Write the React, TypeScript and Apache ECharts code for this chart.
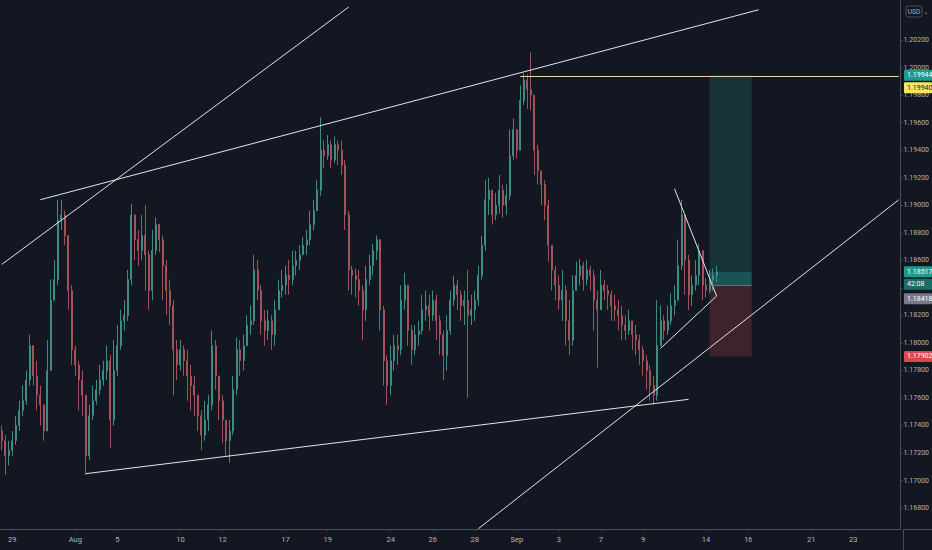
import React, { useEffect, useRef } from 'react';
import * as echarts from 'echarts';

// 4-hour candles (close / high / low); open = previous close
const firstOpen = 1.1736;
const closes = [
  1.1729, 1.1718, 1.1722, 1.1729, 1.1740, 1.1751, 1.1758, 1.1773, 1.1798, 1.1776,
  1.1762, 1.1755, 1.1736, 1.1780, 1.1831, 1.1846, 1.1889, 1.1893, 1.1878, 1.1838,
  1.1795, 1.1784, 1.1773, 1.1762, 1.1718, 1.1747, 1.1758, 1.1766, 1.1773, 1.1780,
  1.1787, 1.1744, 1.1780, 1.1798, 1.1816, 1.1820, 1.1846, 1.1893, 1.1875, 1.1867,
  1.1878, 1.1864, 1.1838, 1.1867, 1.1886, 1.1875, 1.1856, 1.1838, 1.1827, 1.1795,
  1.1784, 1.1795, 1.1787, 1.1776, 1.1769, 1.1762, 1.1747, 1.1733, 1.1744, 1.1755,
  1.1798, 1.1776, 1.1758, 1.1744, 1.1729, 1.1736, 1.1766, 1.1795, 1.1787, 1.1798,
  1.1813, 1.1816, 1.1853, 1.1838, 1.1816, 1.1809, 1.1816, 1.1806, 1.1824, 1.1838,
  1.1842, 1.1849, 1.1846, 1.1856, 1.1860, 1.1864, 1.1871, 1.1875, 1.1886, 1.1896,
  1.1911, 1.1940, 1.1936, 1.1944, 1.1933, 1.1944, 1.1940, 1.1929, 1.1893, 1.1853,
  1.1849, 1.1846, 1.1838, 1.1824, 1.1846, 1.1856, 1.1867, 1.1875, 1.1824, 1.1787,
  1.1769, 1.1787, 1.1798, 1.1795, 1.1831, 1.1842, 1.1809, 1.1795, 1.1806, 1.1809,
  1.1824, 1.1827, 1.1820, 1.1831, 1.1816, 1.1806, 1.1791, 1.1809, 1.1831, 1.1842,
  1.1835, 1.1827, 1.1831, 1.1820, 1.1824, 1.1831, 1.1849, 1.1871, 1.1904, 1.1911,
  1.1893, 1.1900, 1.1911, 1.1900, 1.1907, 1.1936, 1.1955, 1.1940, 1.1976, 1.1991,
  1.1984, 1.1980, 1.1940, 1.1925, 1.1915, 1.1900, 1.1871, 1.1853, 1.1842, 1.1831,
  1.1838, 1.1816, 1.1802, 1.1838, 1.1849, 1.1856, 1.1846, 1.1853, 1.1849, 1.1831,
  1.1824, 1.1842, 1.1838, 1.1835, 1.1827, 1.1824, 1.1820, 1.1813, 1.1809, 1.1816,
  1.1806, 1.1802, 1.1795, 1.1787, 1.1780, 1.1769, 1.1762, 1.1798, 1.1816, 1.1809,
  1.1816, 1.1827, 1.1831, 1.1856, 1.1893, 1.1860, 1.1835, 1.1842, 1.1849, 1.1867,
  1.1842, 1.1838, 1.1846, 1.1849, 1.18517,
];
const highs = [
  1.1740, 1.1733, 1.1729, 1.1736, 1.1747, 1.1758, 1.1769, 1.1780, 1.1806, 1.1795,
  1.1787, 1.1769, 1.1755, 1.1802, 1.1846, 1.1860, 1.1904, 1.1904, 1.1896, 1.1878,
  1.1842, 1.1798, 1.1787, 1.1780, 1.1758, 1.1755, 1.1769, 1.1773, 1.1784, 1.1787,
  1.1798, 1.1791, 1.1802, 1.1813, 1.1824, 1.1831, 1.1853, 1.1901, 1.1893, 1.1882,
  1.1893, 1.1900, 1.1867, 1.1882, 1.1891, 1.1884, 1.1878, 1.1860, 1.1846, 1.1831,
  1.1802, 1.1802, 1.1798, 1.1795, 1.1784, 1.1776, 1.1762, 1.1751, 1.1758, 1.1762,
  1.1809, 1.1802, 1.1776, 1.1762, 1.1744, 1.1744, 1.1776, 1.1804, 1.1802, 1.1806,
  1.1820, 1.1827, 1.1864, 1.1860, 1.1842, 1.1824, 1.1824, 1.1820, 1.1831, 1.1846,
  1.1853, 1.1856, 1.1860, 1.1867, 1.1867, 1.1871, 1.1877, 1.1882, 1.1896, 1.1904,
  1.1918, 1.1964, 1.1947, 1.1951, 1.1947, 1.1950, 1.1947, 1.1947, 1.1933, 1.1896,
  1.1856, 1.1854, 1.1853, 1.1842, 1.1856, 1.1864, 1.1872, 1.1878, 1.1875, 1.1827,
  1.1791, 1.1798, 1.1806, 1.1806, 1.1842, 1.1851, 1.1842, 1.1813, 1.1813, 1.1816,
  1.1835, 1.1838, 1.1835, 1.1838, 1.1835, 1.1820, 1.1809, 1.1820, 1.1838, 1.1849,
  1.1846, 1.1838, 1.1838, 1.1853, 1.1835, 1.1838, 1.1856, 1.1878, 1.1918, 1.1920,
  1.1911, 1.1909, 1.1922, 1.1915, 1.1915, 1.1955, 1.1963, 1.1951, 1.1987, 1.1996,
  1.1995, 1.2011, 1.1980, 1.1944, 1.1925, 1.1918, 1.1904, 1.1871, 1.1856, 1.1849,
  1.1853, 1.1842, 1.1831, 1.1849, 1.1859, 1.1861, 1.1859, 1.1860, 1.1856, 1.1853,
  1.1838, 1.1853, 1.1846, 1.1842, 1.1838, 1.1835, 1.1831, 1.1827, 1.1820, 1.1824,
  1.1816, 1.1813, 1.1806, 1.1798, 1.1791, 1.1784, 1.1776, 1.1831, 1.1827, 1.1820,
  1.1827, 1.1836, 1.1842, 1.1875, 1.1904, 1.1893, 1.1864, 1.1849, 1.1860, 1.1872,
  1.1867, 1.1847, 1.1853, 1.1854, 1.1856,
];
const lows = [
  1.1722, 1.1704, 1.1711, 1.1718, 1.1726, 1.1736, 1.1747, 1.1755, 1.1769, 1.1769,
  1.1751, 1.1740, 1.1729, 1.1736, 1.1780, 1.1831, 1.1842, 1.1882, 1.1871, 1.1824,
  1.1784, 1.1776, 1.1751, 1.1747, 1.1704, 1.1715, 1.1744, 1.1755, 1.1762, 1.1769,
  1.1773, 1.1724, 1.1740, 1.1776, 1.1795, 1.1809, 1.1816, 1.1842, 1.1860, 1.1856,
  1.1860, 1.1838, 1.1824, 1.1831, 1.1864, 1.1866, 1.1831, 1.1820, 1.1813, 1.1762,
  1.1773, 1.1780, 1.1776, 1.1758, 1.1751, 1.1747, 1.1736, 1.1722, 1.1729, 1.1736,
  1.1751, 1.1766, 1.1744, 1.1727, 1.1718, 1.1713, 1.1733, 1.1762, 1.1776, 1.1780,
  1.1798, 1.1806, 1.1813, 1.1831, 1.1806, 1.1798, 1.1802, 1.1795, 1.1798, 1.1824,
  1.1833, 1.1835, 1.1835, 1.1842, 1.1849, 1.1853, 1.1864, 1.1864, 1.1871, 1.1882,
  1.1896, 1.1907, 1.1927, 1.1933, 1.1927, 1.1931, 1.1929, 1.1922, 1.1882, 1.1838,
  1.1835, 1.1833, 1.1827, 1.1802, 1.1816, 1.1842, 1.1849, 1.1860, 1.1809, 1.1769,
  1.1755, 1.1762, 1.1780, 1.1784, 1.1791, 1.1824, 1.1798, 1.1784, 1.1791, 1.1798,
  1.1806, 1.1816, 1.1809, 1.1816, 1.1802, 1.1791, 1.1773, 1.1780, 1.1806, 1.1827,
  1.1824, 1.1816, 1.1813, 1.1760, 1.1813, 1.1816, 1.1827, 1.1846, 1.1867, 1.1893,
  1.1886, 1.1889, 1.1894, 1.1891, 1.1893, 1.1904, 1.1933, 1.1934, 1.1940, 1.1973,
  1.1970, 1.1969, 1.1922, 1.1915, 1.1900, 1.1889, 1.1859, 1.1838, 1.1831, 1.1824,
  1.1816, 1.1798, 1.1791, 1.1798, 1.1838, 1.1842, 1.1838, 1.1842, 1.1838, 1.1809,
  1.1782, 1.1824, 1.1831, 1.1824, 1.1816, 1.1816, 1.1809, 1.1802, 1.1802, 1.1806,
  1.1795, 1.1791, 1.1784, 1.1776, 1.1766, 1.1758, 1.1755, 1.1758, 1.1802, 1.1802,
  1.1806, 1.1813, 1.1820, 1.1831, 1.1853, 1.1835, 1.1824, 1.1827, 1.1838, 1.1842,
  1.1831, 1.1833, 1.1836, 1.1838, 1.1844,
];

// price-scale ticks; 1.18400 sits under the price tags, so only its tick mark is drawn
const priceTicks = [
  1.168, 1.17, 1.172, 1.174, 1.176, 1.178, 1.18, 1.182, 1.184, 1.186, 1.188,
  1.19, 1.192, 1.194, 1.196, 1.198, 1.2, 1.202,
];
const priceLabels = [
  1.168, 1.17, 1.172, 1.174, 1.176, 1.178, 1.18, 1.182, 1.186, 1.188,
  1.19, 1.192, 1.194, 1.196, 1.198, 1.2, 1.202,
];
const tickDays = [
  '2020-07-29', '2020-08-03', '2020-08-05', '2020-08-10', '2020-08-12', '2020-08-17',
  '2020-08-19', '2020-08-24', '2020-08-26', '2020-08-28', '2020-09-01', '2020-09-03',
  '2020-09-07', '2020-09-09', '2020-09-14', '2020-09-16', '2020-09-21', '2020-09-23',
];
const tickLabels = [
  '29', 'Aug', '5', '10', '12', '17', '19', '24', '26', '28', 'Sep', '3', '7', '9',
  '14', '16', '21', '23',
];

// drawings: [ [index, price], [index, price] ]
const trendLines = [
  [[0, 1.1857], [99, 1.2044]],
  [[11, 1.1904], [216, 1.2042]],
  [[24, 1.1705], [196, 1.1759]],
  [[136, 1.1665], [256, 1.1904]],
  [[192, 1.1912], [204, 1.1834]],
  [[204, 1.1834], [188, 1.1796]],
];
const yellowLine = [[148, 1.1994], [256, 1.1994]];
const positionStart = 202;
const positionEnd = 214;
const targetPrice = 1.19944;
const currentPrice = 1.18517;
const entryPrice = 1.18418;
const stopPrice = 1.17902;

function buildCategories(): string[] {
  const out: string[] = [];
  const d = new Date(Date.UTC(2020, 6, 28));
  const end = Date.UTC(2020, 8, 25);
  while (d.getTime() <= end) {
    const dow = d.getUTCDay();
    if (dow !== 0 && dow !== 6) {
      const ds = d.toISOString().slice(0, 10);
      for (let h = 0; h < 24; h += 4) {
        if (ds === '2020-07-28' && h < 12) continue;
        if (ds === '2020-09-25' && h > 4) continue;
        out.push(ds + ' ' + String(h).padStart(2, '0') + ':00');
      }
    }
    d.setUTCDate(d.getUTCDate() + 1);
  }
  return out;
}

export default function App() {
  const ref = useRef<HTMLDivElement>(null);
  useEffect(() => {
    if (!ref.current) return;
    const chart = echarts.init(ref.current, undefined, { renderer: 'svg' });
    const categories = buildCategories();
    const candles = closes.map((c, i) => {
      const o = i === 0 ? firstOpen : closes[i - 1];
      return [o, c, Math.min(lows[i], o, c), Math.max(highs[i], o, c)];
    });
    const isTick = (v: string) => v.endsWith('00:00') && tickDays.includes(v.slice(0, 10));
    const axisColor = '#4a4e59';
    const textColor = '#b2b5be';
    const upColor = '#3f8c85';
    const downColor = '#a4525a';

    chart.setOption({
      animation: false,
      backgroundColor: '#131722',
      textStyle: { fontFamily: 'Roboto' },
      grid: { left: 0, right: 29, top: 0, bottom: 21 },
      xAxis: {
        type: 'category',
        data: categories,
        boundaryGap: true,
        axisLine: { show: true, lineStyle: { color: axisColor } },
        axisTick: {
          show: true,
          alignWithLabel: true,
          length: 2,
          interval: (_i: number, v: string) => isTick(v),
          lineStyle: { color: axisColor },
        },
        axisLabel: {
          interval: (_i: number, v: string) => isTick(v),
          formatter: (v: string) => tickLabels[tickDays.indexOf(v.slice(0, 10))] ?? '',
          color: textColor,
          fontSize: 7.5,
          margin: 6,
        },
        splitLine: { show: false },
      },
      yAxis: {
        type: 'value',
        position: 'right',
        min: 1.16648,
        max: 1.20491,
        scale: true,
        axisLine: { show: true, lineStyle: { color: axisColor } },
        axisTick: { show: true, customValues: priceTicks, length: 2, lineStyle: { color: axisColor } },
        axisLabel: {
          customValues: priceLabels,
          formatter: (v: number) => v.toFixed(5),
          color: textColor,
          fontSize: 7,
          margin: 3,
        },
        splitLine: { show: false },
      },
      series: [
        {
          type: 'candlestick',
          data: candles,
          barWidth: 1.5,
          itemStyle: {
            color: upColor,
            color0: downColor,
            borderColor: upColor,
            borderColor0: downColor,
            borderWidth: 1,
          },
          markArea: {
            silent: true,
            data: [
              [
                { coord: [positionStart, currentPrice], itemStyle: { color: 'rgba(38,166,154,0.2)' } },
                { coord: [positionEnd, targetPrice] },
              ],
              [
                { coord: [positionStart, entryPrice], itemStyle: { color: 'rgba(38,166,154,0.42)' } },
                { coord: [positionEnd, currentPrice] },
              ],
              [
                { coord: [positionStart, stopPrice], itemStyle: { color: 'rgba(239,83,80,0.2)' } },
                { coord: [positionEnd, entryPrice] },
              ],
            ],
          },
          markLine: {
            silent: true,
            symbol: ['none', 'none'],
            label: { show: false },
            emphasis: { disabled: true },
            data: [
              ...trendLines.map((l) => [
                { coord: l[0], lineStyle: { color: '#e3e5ea', width: 1, type: 'solid' } },
                { coord: l[1] },
              ]),
              [
                { coord: yellowLine[0], lineStyle: { color: '#e6da9c', width: 1, type: 'solid' } },
                { coord: yellowLine[1] },
              ],
              [
                { coord: [positionStart, entryPrice], lineStyle: { color: '#6b6f7a', width: 1, type: 'solid' } },
                { coord: [positionEnd, entryPrice] },
              ],
            ],
          },
        },
      ],
    });

    const yPx = (p: number) => chart.convertToPixel({ yAxisIndex: 0 }, p) as number;
    const tags = [
      { price: targetPrice, shift: 0, text: '1.19944', bg: '#1f9b8e', fg: '#ffffff' },
      { price: targetPrice, shift: 12.5, text: '1.19940', bg: '#f5e663', fg: '#131722' },
      { price: currentPrice, shift: 0, text: '1.18517', bg: '#1f9b8e', fg: '#ffffff' },
      { price: currentPrice, shift: 12.5, text: '42:08', bg: '#1a6e66', fg: '#ffffff' },
      { price: entryPrice, shift: 13.5, text: '1.18418', bg: '#787b86', fg: '#ffffff' },
      { price: stopPrice, shift: 0, text: '1.17902', bg: '#d9484c', fg: '#ffffff' },
    ];
    const W = 932;
    const H = 550;
    const axisX = W - 29;
    const axisY = H - 21;
    const graphic: any[] = [
      { type: 'line', z: 50, shape: { x1: axisX, y1: axisY + 0.5, x2: W, y2: axisY + 0.5 }, style: { stroke: axisColor, lineWidth: 1 } },
      { type: 'line', z: 50, shape: { x1: axisX + 0.5, y1: axisY, x2: axisX + 0.5, y2: H }, style: { stroke: axisColor, lineWidth: 1 } },
      { type: 'rect', z: 60, shape: { x: 906, y: 6, width: 16, height: 11, r: 2 }, style: { fill: '#131722', stroke: '#4a4e59', lineWidth: 1 } },
      { type: 'text', z: 61, x: 914, y: 11.5, style: { text: 'USD', fill: textColor, fontSize: 6.5, fontFamily: 'Roboto', align: 'center', verticalAlign: 'middle' } },
      { type: 'text', z: 61, x: 926, y: 11.5, style: { text: '⌄', fill: textColor, fontSize: 6, fontFamily: 'DejaVu Sans', align: 'center', verticalAlign: 'middle' } },
    ];
    tags.forEach((t) => {
      const y = yPx(t.price) + t.shift;
      graphic.push({
        type: 'rect', z: 70,
        shape: { x: axisX + 1, y: y - 5.5, width: W - axisX - 1, height: 11, r: 1 },
        style: { fill: t.bg },
      });
      graphic.push({
        type: 'text', z: 71, x: axisX + 4, y,
        style: { text: t.text, fill: t.fg, fontSize: 7, fontFamily: 'Roboto', verticalAlign: 'middle', align: 'left' },
      });
    });
    chart.setOption({ graphic });

    return () => chart.dispose();
  }, []);
  return (
    <div
      ref={ref}
      style={{ position: 'fixed', left: 0, top: 0, width: 932, height: 550 }}
    />
  );
}
